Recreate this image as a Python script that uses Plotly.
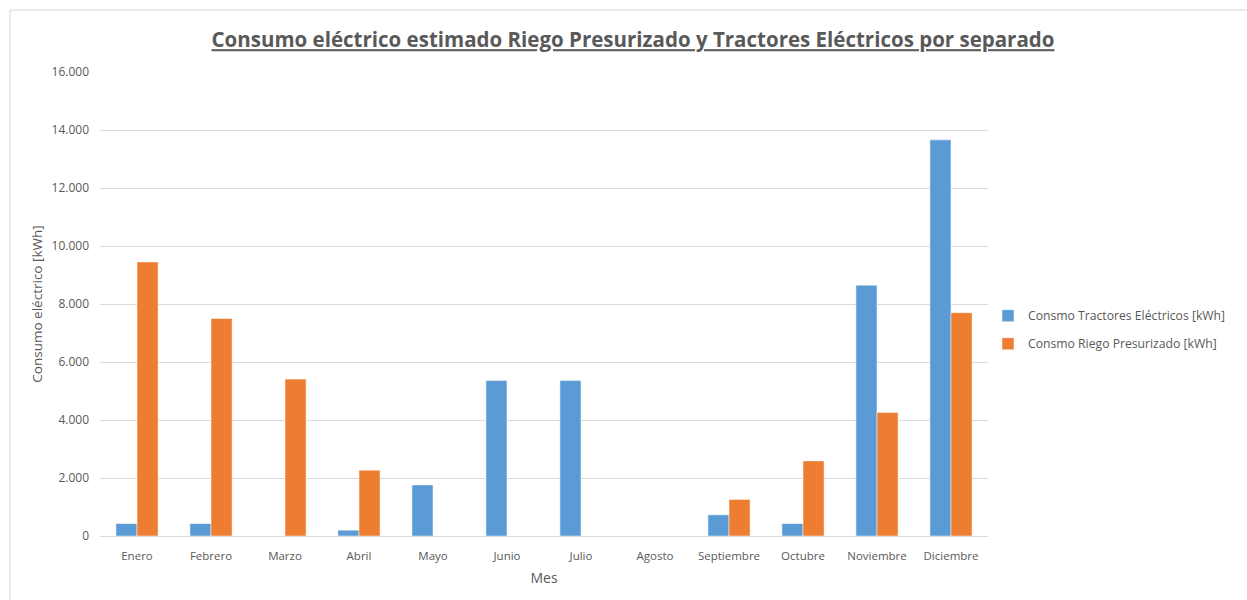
import plotly.graph_objects as go

meses = ["Enero", "Febrero", "Marzo", "Abril", "Mayo", "Junio", "Julio",
         "Agosto", "Septiembre", "Octubre", "Noviembre", "Diciembre"]
tractores = [430, 430, 0, 200, 1760, 5360, 5360, 0, 730, 430, 8650, 13660]
riego = [9450, 7500, 5410, 2270, 0, 0, 0, 0, 1260, 2590, 4260, 7700]

serie_tractores = "Consmo Tractores Eléctricos [kWh]"
serie_riego = "Consmo Riego Presurizado [kWh]"
titulo = "Consumo eléctrico estimado Riego Presurizado y Tractores Eléctricos por separado"
y_titulo = "Consumo eléctrico [kWh]"
x_titulo = "Mes"

azul = "#5B9BD5"
naranja = "#ED7D31"
gris = "#595959"
font_fam = "Open Sans, Liberation Sans, sans-serif"

fig = go.Figure()
fig.add_trace(go.Bar(x=meses, y=tractores, name=serie_tractores, legendgroup="a",
                     marker=dict(color=azul, line=dict(color="white", width=0.5))))
fig.add_trace(go.Bar(x=meses, y=riego, name=serie_riego, legendgroup="b",
                     marker=dict(color=naranja, line=dict(color="white", width=0.5))))

W, H = 1247, 600
L, R, T, B = 100, 988, 72, 536.5
pw, ph = R - L, B - T

def px(x):
    return (x - L) / pw

def py(y):
    return (B - y) / ph

fig.update_layout(
    width=W, height=H,
    margin=dict(l=L, r=W - R, t=T, b=H - B, pad=0),
    paper_bgcolor="white", plot_bgcolor="white",
    barmode="group", bargap=0.43, bargroupgap=0,
    separators=",.",
    font=dict(family=font_fam, color=gris, size=12),
    title=dict(text='<span style="text-decoration:underline"><b>' + titulo + '</b></span>',
               x=633 / W, xanchor="center", y=1 - 40 / H, yanchor="middle",
               font=dict(family=font_fam, size=20.5, color=gris)),
    xaxis=dict(title=dict(text=x_titulo, font=dict(size=14, color=gris), standoff=11),
               tickfont=dict(size=11.5, color=gris), showline=True, linecolor="#d9d9d9",
               linewidth=1, ticks="", showgrid=False, ticklabelstandoff=9),
    yaxis=dict(title=dict(text=y_titulo, font=dict(size=13.5, color=gris), standoff=5),
               range=[0, 16000], dtick=2000, tickformat=",d",
               tickfont=dict(size=12, color=gris), showgrid=True, gridcolor="#d9d9d9",
               gridwidth=1, zeroline=False, ticks="", showline=False,
               ticklabelstandoff=10),
    legend=dict(x=px(988), xanchor="left", y=py(330), yanchor="middle",
                font=dict(size=12.2, color=gris),
                tracegroupgap=9, traceorder="grouped", bgcolor="rgba(0,0,0,0)"),
    shapes=[dict(type="rect", xref="paper", yref="paper",
                 x0=px(10), x1=px(1300), y0=py(650), y1=py(10),
                 line=dict(color="#d9d9d9", width=1), fillcolor="rgba(0,0,0,0)",
                 layer="below")],
)

fig.write_html("out.html", config={"displayModeBar": False},
               post_script="document.body.style.margin='0';")
